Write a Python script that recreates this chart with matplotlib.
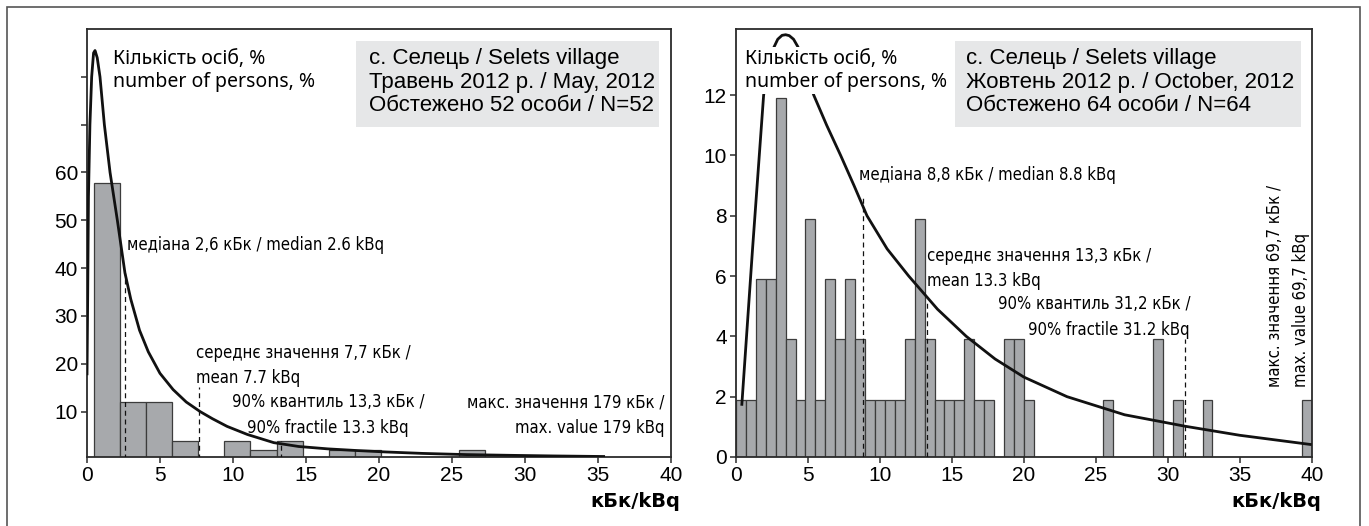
import numpy as np
import matplotlib.pyplot as plt
from matplotlib import font_manager
from matplotlib.patches import Rectangle

# --- data -------------------------------------------------------------------
# May 2012 histogram (percent of persons), bins of equal width
may_bin_start = 0.48
may_bin_width = 1.787
may_heights = [57.7, 12.1, 12.1, 3.9, 0, 3.9, 1.9, 3.9, 0, 1.9, 1.9, 0, 0, 0, 1.9]

# fitted curve, May
may_curve_x = [0.0, 0.05, 0.1, 0.2, 0.32, 0.45, 0.55, 0.7, 0.89, 1.19, 1.58, 2.08,
               2.6, 3.0, 3.6, 4.2, 5.0, 5.9, 6.8, 7.75, 8.6, 9.6, 11.0, 12.8, 14.5,
               16.5, 18.5, 20.5, 23.0, 26.0, 29.0, 32.0, 35.5]
may_curve_y = [17.6, 35, 55, 70, 80, 85, 85.5, 84, 80, 70, 60, 50,
               39, 33.5, 27, 22.5, 18, 14.6, 12, 10.0, 8.5, 6.9, 5.2, 3.5, 2.7,
               2.2, 1.85, 1.55, 1.25, 1.0, 0.85, 0.72, 0.6]

# October 2012 histogram
oct_bin_start = 0.0
oct_bin_width = 40 / 58
oct_heights = [1.9, 1.9, 5.9, 5.9, 11.9, 3.9, 1.9, 7.9, 1.9, 5.9,
               3.9, 5.9, 3.9, 1.9, 1.9, 1.9, 1.9, 3.9, 7.9, 3.9,
               1.9, 1.9, 1.9, 3.9, 1.9, 1.9, 0, 3.9, 3.9, 1.9,
               0, 0, 0, 0, 0, 0, 0, 1.9, 0, 0,
               0, 0, 3.9, 0, 1.9, 0, 0, 1.9, 0, 0,
               0, 0, 0, 0, 0, 0, 0, 1.9]

oct_curve_x = [0.4, 1.15, 1.92, 2.3, 2.6, 2.9, 3.2, 3.45, 3.7, 4.0, 4.3, 4.8, 5.4,
               6.3, 7.27, 8.2, 9.1, 10.5, 12.0, 14.0, 16.0, 18.0, 20.0, 23.0, 27.0,
               31.2, 35.0, 40.0]
oct_curve_y = [1.7, 6.9, 12.0, 13.1, 13.55, 13.85, 13.98, 14.0, 13.97, 13.85, 13.6,
               12.9, 12.0, 11.0, 10.0, 9.0, 8.0, 6.9, 6.0, 4.9, 4.0, 3.25, 2.65, 2.0,
               1.4, 1.02, 0.72, 0.41]

# statistics markers: value, top of the dashed line
may_stats = [(2.6, 39), (7.7, 15.1), (13.3, 3.9)]
oct_stats = [(8.8, 8.6), (13.3, 5.2), (31.2, 3.9)]

may_box = "с. Селець / Selets village\nТравень 2012 р. / May, 2012\nОбстежено 52 особи / N=52"
oct_box = "с. Селець / Selets village\nЖовтень 2012 р. / October, 2012\nОбстежено 64 особи / N=64"
ylabel = "Кількість осіб, %\nnumber of persons, %"
xlabel = "кБк/kBq"

# --- style ------------------------------------------------------------------
W, H = 1369, 526
BAR = '#a7a9ac'
EDGE = '#3c3c3c'
BOXGRAY = '#e6e7e8'
plt.rcParams['font.family'] = ['Liberation Sans', 'DejaVu Sans']

# condensed face for the annotations, if one is installed
fonts = font_manager.fontManager.ttflist
if any(f.name == 'Liberation Sans Narrow' for f in fonts):
    NARROW = dict(family=['Liberation Sans Narrow', 'DejaVu Sans'], fontsize=14)
elif any(f.name == 'DejaVu Sans' and f.stretch == 'condensed' for f in fonts):
    NARROW = dict(family=['DejaVu Sans'], fontstretch='condensed', fontsize=12)
else:
    NARROW = dict(family=['Liberation Sans', 'DejaVu Sans'], fontsize=12)
LS = 1.52

fig = plt.figure(figsize=(W / 100, H / 100), dpi=100)
ax1 = fig.add_axes([87 / W, 1 - 457 / H, 583.7 / W, 428 / H])
ax2 = fig.add_axes([736 / W, 1 - 457 / H, 575.7 / W, 428 / H])

# outer frame (cut at the bottom edge)
fig.add_artist(Rectangle((7 / W, -0.05), 1353 / W, 1 - 7 / H + 0.05,
                         transform=fig.transFigure, fill=False, lw=1.2, ec='#555555'))


def base(ax, heights, start, width):
    lefts = start + width * np.arange(len(heights))
    ax.bar(lefts, heights, width=width, align='edge', color=BAR,
           edgecolor=EDGE, linewidth=0.9, zorder=2)
    for s in ax.spines.values():
        s.set_linewidth(1.3)
        s.set_color('#2b2b2b')
    ax.set_xlim(0, 40)
    ax.set_xticks(range(0, 41, 5))
    ax.tick_params(direction='out', length=4.5, width=1.1, labelsize=15,
                   pad=2, color='#2b2b2b')
    ax.text(1.016, -0.105, xlabel, transform=ax.transAxes, ha='right', va='center',
            family=['DejaVu Sans'], fontsize=14, fontweight='bold')


# --- left panel -------------------------------------------------------------
base(ax1, may_heights, may_bin_start, may_bin_width)
ax1.set_ylim(0.5, 90)
ax1.set_yticks([10, 20, 30, 40, 50, 60, 70, 80])
ax1.set_yticklabels(['10', '20', '30', '40', '50', '60', '', ''])
ax1.plot(may_curve_x, may_curve_y, color='#111111', lw=2.0, zorder=4,
         solid_capstyle='butt', solid_joinstyle='round')
for v, top in may_stats:
    ax1.plot([v, v], [0, top], color='#111111', lw=0.9, ls=(0, (4, 3)), zorder=3)

ax1.text(2.77, 44.8, "медіана 2,6 кБк / median 2.6 kBq",
         ha='left', va='center', zorder=5, **NARROW)
ax1.text(7.45, 19.6, "середнє значення 7,7 кБк /\nmean 7.7 kBq",
         ha='left', va='center', linespacing=LS, zorder=5, **NARROW)
ax1.text(16.5, 9.3, "90% квантиль 13,3 кБк /\n90% fractile 13.3 kBq",
         ha='center', va='center', linespacing=LS, zorder=5, **NARROW)
ax1.text(39.6, 9.3, "макс. значення 179 кБк /\nmax. value 179 kBq",
         ha='right', va='center', multialignment='right',
         linespacing=LS, zorder=5, **NARROW)

ax1.add_patch(Rectangle((0.461, 0.771), 0.519, 0.2017, transform=ax1.transAxes,
                        facecolor=BOXGRAY, edgecolor='none', zorder=1))
ax1.text(0.4825, 0.8752, may_box, transform=ax1.transAxes, ha='left', va='center',
         fontsize=16, linespacing=1.16, zorder=5)
ax1.text(0.0445, 0.903, ylabel, transform=ax1.transAxes, ha='left', va='center',
         family=['Noto Sans', 'DejaVu Sans'], fontweight='light', fontsize=14,
         linespacing=1.24, zorder=5)

# --- right panel ------------------------------------------------------------
base(ax2, oct_heights, oct_bin_start, oct_bin_width)
ax2.set_ylim(0, 14.19)
ax2.set_yticks(range(0, 13, 2))
ax2.plot(oct_curve_x, oct_curve_y, color='#111111', lw=2.0, zorder=3,
         solid_capstyle='butt', solid_joinstyle='round')
for v, top in oct_stats:
    ax2.plot([v, v], [0, top], color='#111111', lw=0.9, ls=(0, (4, 3)), zorder=3)

ax2.text(8.58, 9.36, "медіана 8,8 кБк / median 8.8 kBq",
         ha='left', va='center', zorder=5, **NARROW)
ax2.text(13.29, 6.26, "середнє значення 13,3 кБк /\nmean 13.3 kBq",
         ha='left', va='center', linespacing=LS, zorder=5, **NARROW)
ax2.text(31.55, 4.64, "90% квантиль 31,2 кБк /\n90% fractile 31.2 kBq",
         ha='right', va='center', multialignment='right',
         linespacing=LS, zorder=5, **NARROW)
ax2.text(38.35, 2.33, "макс. значення 69,7 кБк /\nmax. value 69,7 kBq",
         ha='center', va='bottom', rotation=90, multialignment='left',
         linespacing=LS, zorder=5, **NARROW)

ax2.add_patch(Rectangle((0.380, 0.771), 0.601, 0.2017, transform=ax2.transAxes,
                        facecolor=BOXGRAY, edgecolor='none', zorder=1))
ax2.text(0.3995, 0.8752, oct_box, transform=ax2.transAxes, ha='left', va='center',
         fontsize=16, linespacing=1.16, zorder=5)
ax2.text(0.0156, 0.903, ylabel, transform=ax2.transAxes, ha='left', va='center',
         family=['Noto Sans', 'DejaVu Sans'], fontweight='light', fontsize=14,
         linespacing=1.24, zorder=5,
         bbox=dict(facecolor='white', edgecolor='none', pad=1))

fig.savefig('out.png', dpi=100)
